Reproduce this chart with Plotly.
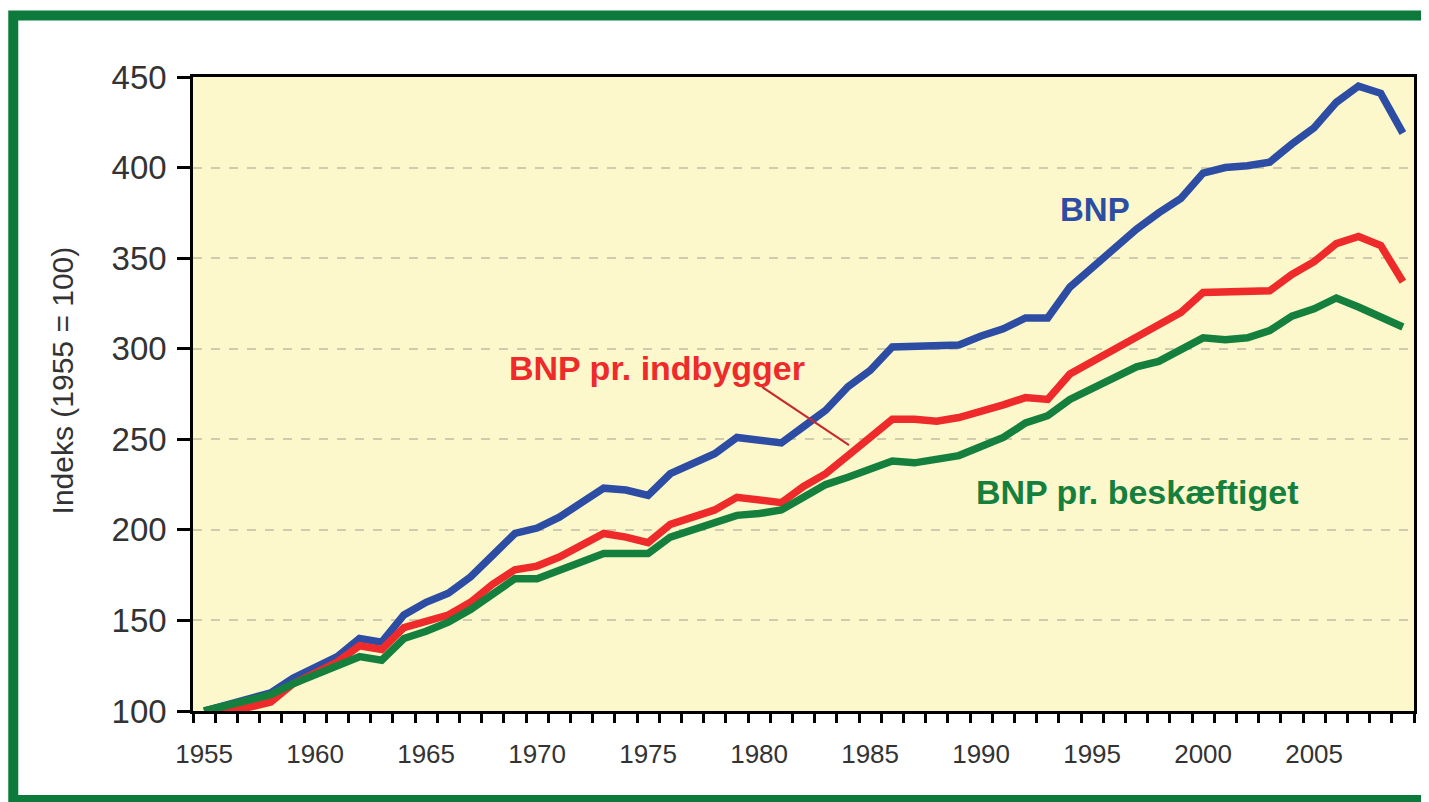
import plotly.graph_objects as go

years = list(range(1955, 2010))

bnp = [100, 103, 107, 110, 118, 124, 130, 140, 138, 153,
       160, 165, 174, 186, 198, 201, 207, 215, 223, 222,
       219, 231, 237, 242, 251, 250, 248, 257, 266, 279,
       288, 301, 301, 301, 302, 307, 311, 317, 317, 334,
       345, 356, 366, 375, 383, 397, 400, 401, 403, 413,
       422, 436, 445, 441, 419]

bnp_indbygger = [100, 100, 102, 105, 115, 121, 127, 136, 134, 146,
                 149, 153, 160, 170, 178, 180, 185, 192, 198, 196,
                 193, 203, 207, 211, 218, 217, 215, 224, 231, 241,
                 251, 261, 261, 260, 262, 265, 269, 273, 272, 286,
                 293, 299, 306, 314, 320, 331, 331, 332, 332, 341,
                 348, 358, 362, 357, 337]

bnp_beskaeftiget = [100, 103, 106, 109, 115, 120, 124, 130, 128, 140,
                    144, 149, 156, 165, 173, 173, 178, 182, 187, 187,
                    187, 196, 200, 204, 208, 209, 211, 218, 225, 229,
                    233, 238, 237, 239, 241, 246, 251, 259, 263, 272,
                    278, 284, 290, 293, 299, 306, 305, 306, 310, 318,
                    322, 328, 323, 317, 312]

x_tick_vals = [1955, 1960, 1965, 1970, 1975, 1980, 1985, 1990, 1995, 2000, 2005]
y_tick_vals = [100, 150, 200, 250, 300, 350, 400, 450]

BLUE = "#2c4da3"
RED = "#ee2a2a"
GREEN = "#15803d"
FONT = "Liberation Sans, Arial, sans-serif"

fig = go.Figure()
for name, vals, col in [("BNP", bnp, BLUE),
                        ("BNP pr. indbygger", bnp_indbygger, RED),
                        ("BNP pr. beskæftiget", bnp_beskaeftiget, GREEN)]:
    fig.add_trace(go.Scatter(x=years, y=vals, mode="lines", name=name,
                             line=dict(color=col, width=7.5),
                             showlegend=False, hoverinfo="x+y"))

fig.update_layout(
    width=1421, height=794,
    margin=dict(l=185, r=13, t=69, b=91),
    paper_bgcolor="white",
    plot_bgcolor="#fcf8cb",
    font=dict(family=FONT, color="#333333"),
)

fig.update_xaxes(
    range=[1954.5, 2009.5],
    tickvals=x_tick_vals,
    ticktext=[str(v) for v in x_tick_vals],
    ticks="outside", ticklen=18, tickcolor="rgba(0,0,0,0)",
    tickfont=dict(size=26, color="#333333"),
    showgrid=False, zeroline=False,
    showline=True, linecolor="black", linewidth=2.5, mirror=True,
    minor=dict(ticks="outside", tick0=1954.5, dtick=1, ticklen=9,
               tickwidth=3, tickcolor="black", showgrid=False),
)

fig.update_yaxes(
    range=[100, 450],
    tickvals=y_tick_vals,
    ticks="outside", ticklen=13, tickwidth=3, tickcolor="black",
    tickfont=dict(size=33, color="#333333"),
    ticklabelstandoff=4,
    showgrid=True, gridcolor="#cfccae", griddash="dash", gridwidth=1.5,
    zeroline=False,
    showline=True, linecolor="black", linewidth=2.5, mirror=True,
)

annotations = [
    dict(text="<b>BNP</b>", x=1995.15, y=376.7, xref="x", yref="y",
         showarrow=False, font=dict(size=33, color=BLUE, family=FONT)),
    dict(text="<b>BNP pr. indbygger</b>", x=1975.4, y=289.4, xref="x", yref="y",
         showarrow=False, font=dict(size=34, color=RED, family=FONT)),
    dict(text="<b>BNP pr. beskæftiget</b>", x=1997.0, y=221, xref="x", yref="y",
         showarrow=False, font=dict(size=34, color=GREEN, family=FONT)),
    dict(text="Indeks (1955 = 100)", x=-0.107, y=0.522, xref="paper", yref="paper",
         xanchor="center", yanchor="middle",
         textangle=-90, showarrow=False,
         font=dict(size=30, color="#333333", family=FONT)),
]
fig.update_layout(annotations=annotations)

shapes = [
    dict(type="line", xref="x", yref="y", x0=1980.13, y0=278.9, x1=1984.05, y1=246.8,
         line=dict(color="#c8282d", width=2)),
    dict(type="rect", xref="paper", yref="paper",
         x0=-0.1472, x1=1.03, y0=-0.1404, y1=1.097,
         line=dict(color="#0b7a3b", width=10), fillcolor="rgba(0,0,0,0)", layer="above"),
]
fig.update_layout(shapes=shapes)

fig.write_html("out.html")
